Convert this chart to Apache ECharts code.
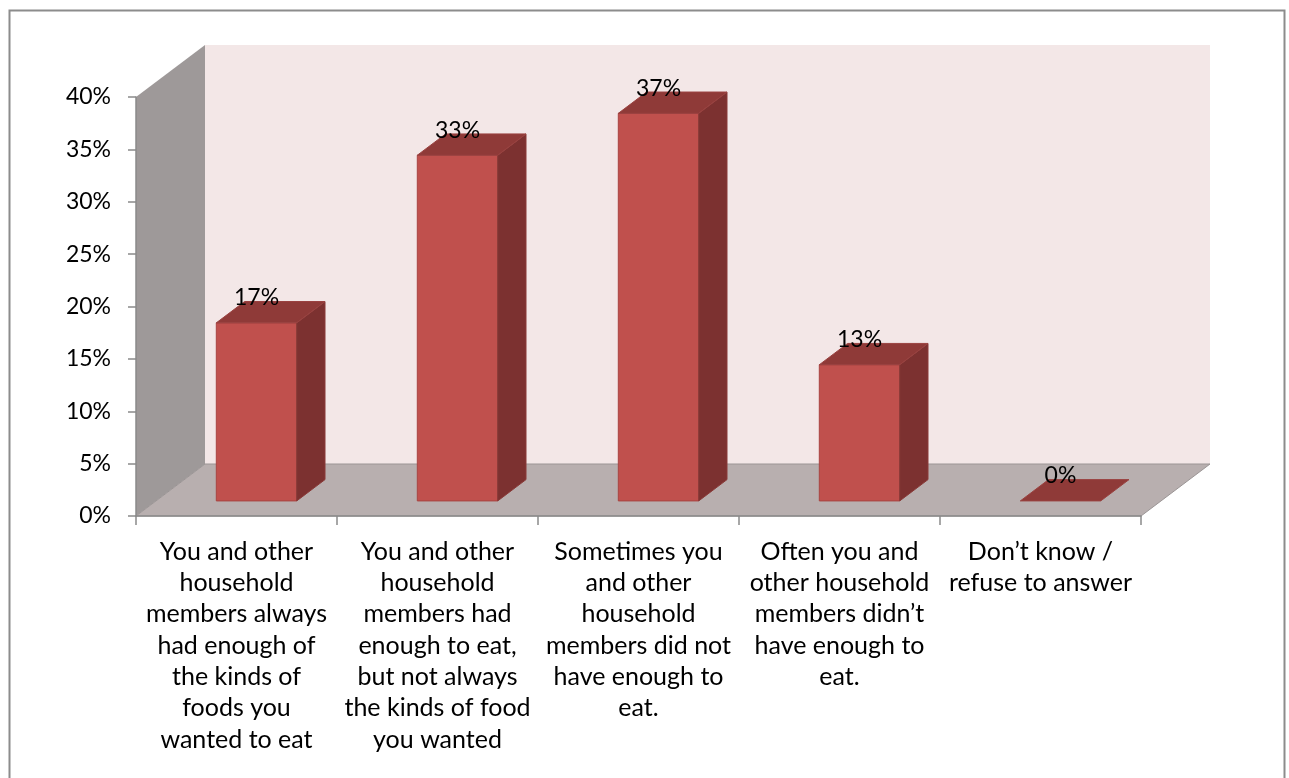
<!DOCTYPE html>
<html>
<head>
<meta charset="utf-8">
<script src="https://cdn.jsdelivr.net/npm/echarts@6/dist/echarts.min.js"></script>
<style>
  html, body { margin: 0; padding: 0; background: #ffffff; }
  #chart { width: 1289px; height: 778px; }
</style>
</head>
<body>
<div id="chart"></div>
<script>
// Survey answers (category labels, with their line breaks)
const categories = [
  'You and other\nhousehold\nmembers always\nhad enough of\nthe kinds of\nfoods you\nwanted to eat',
  'You and other\nhousehold\nmembers had\nenough to eat,\nbut not always\nthe kinds of food\nyou wanted',
  'Sometimes you\nand other\nhousehold\nmembers did not\nhave enough to\neat.',
  'Often you and\nother household\nmembers didn\u2019t\nhave enough to\neat.',
  'Don\u2019t know /\nrefuse to answer'
];
// Share of respondents, in percent
const shares = [17, 33, 37, 13, 0];
// Value axis range and step, in percent
const axisMin = 0;
const axisMax = 40;
const axisStep = 5;

// Depth of the 3D box (pixels) and the bar slab position inside it
const DX = 69, DY = -52;
const F1 = 0.29, F2 = 0.70;
const FONT = 'Lato';

function renderWalls(params, api) {
  const cs = params.coordSys;
  const x0 = cs.x, y0 = cs.y, x1 = cs.x + cs.width, y1 = cs.y + cs.height;
  return {
    type: 'group',
    children: [
      { type: 'polygon', shape: { points: [[x0 + DX, y0 + DY], [x1 + DX, y0 + DY], [x1 + DX, y1 + DY], [x0 + DX, y1 + DY]] },
        style: { fill: '#F3E7E7' } },
      { type: 'polygon', shape: { points: [[x0, y1], [x0, y0], [x0 + DX, y0 + DY], [x0 + DX, y1 + DY]] },
        style: { fill: '#9E9999' } },
      { type: 'polygon', shape: { points: [[x0, y1], [x1, y1], [x1 + DX, y1 + DY], [x0 + DX, y1 + DY]] },
        style: { fill: '#B8AFAF', stroke: '#9B9595', lineWidth: 1 } }
    ]
  };
}

function renderBar(params, api) {
  const i = api.value(0), v = api.value(1);
  const base = api.coord([i, 0]);
  const top = api.coord([i, v]);
  const band = api.size([1, 0])[0];
  const w = band * 0.4;
  const fx = base[0] - w / 2 + DX * F1;
  const fy0 = base[1] + DY * F1;
  const fy1 = top[1] + DY * F1;
  const bx = DX * (F2 - F1), by = DY * (F2 - F1);
  const children = [];
  if (fy0 - fy1 > 0.5) {
    children.push({ type: 'rect', shape: { x: fx, y: fy1, width: w, height: fy0 - fy1 },
      style: { fill: '#C0504D', stroke: '#A84441', lineWidth: 1 } });
    children.push({ type: 'polygon', shape: { points: [[fx + w, fy1], [fx + w, fy0], [fx + w + bx, fy0 + by], [fx + w + bx, fy1 + by]] },
      style: { fill: '#7C3130', stroke: '#8A3A38', lineWidth: 1 } });
  }
  children.push({ type: 'polygon', shape: { points: [[fx, fy1], [fx + w, fy1], [fx + w + bx, fy1 + by], [fx + bx, fy1 + by]] },
    style: { fill: '#8F3A38', stroke: '#9A4240', lineWidth: 1 } });
  children.push({ type: 'text', x: fx + w / 2, y: fy1 - 25,
    style: { text: v + '%', fill: '#000000', font: '23px ' + FONT, align: 'center', verticalAlign: 'middle' } });
  return { type: 'group', children };
}

const chart = echarts.init(document.getElementById('chart'), null, { renderer: 'canvas' });
chart.setOption({
  backgroundColor: '#ffffff',
  animation: false,
  graphic: [{
    type: 'rect', left: 7, top: 8, z: 0, silent: true,
    shape: { width: 1275, height: 790 },
    style: { fill: 'none', stroke: '#8C8C8C', lineWidth: 2 }
  }],
  grid: { left: 136, top: 97, width: 1005, height: 419, containLabel: false, outerBoundsMode: 'none' },
  xAxis: {
    type: 'category',
    data: categories,
    z: 5,
    axisLine: { show: true, lineStyle: { color: '#8A8A8A', width: 1.5 } },
    axisTick: { show: true, alignWithLabel: false, length: 9, lineStyle: { color: '#8A8A8A', width: 1.5 } },
    axisLabel: { interval: 0, margin: 20, color: '#000000', fontFamily: FONT, fontSize: 25, lineHeight: 31.3, align: 'center' },
    splitLine: { show: false }
  },
  yAxis: {
    type: 'value',
    min: axisMin, max: axisMax, interval: axisStep,
    z: 5,
    axisLine: { show: true, lineStyle: { color: '#8A8A8A', width: 1.5 } },
    axisTick: { show: true, length: 8, lineStyle: { color: '#8A8A8A', width: 1.5 } },
    axisLabel: { margin: 25, color: '#000000', fontFamily: FONT, fontSize: 23, formatter: '{value}%' },
    splitLine: { show: false }
  },
  series: [
    { type: 'custom', name: 'walls', silent: true, z: 1, renderItem: renderWalls, data: [[0, 0]] },
    { type: 'custom', name: 'shares', silent: true, z: 3, renderItem: renderBar,
      data: shares.map((v, i) => [i, v]) }
  ]
});
</script>
</body>
</html>
